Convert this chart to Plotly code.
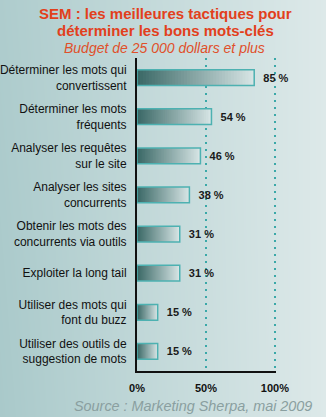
import plotly.graph_objects as go

categories = [
    "Déterminer les mots qui<br>convertissent",
    "Déterminer les mots<br>fréquents",
    "Analyser les requêtes<br>sur le site",
    "Analyser les sites<br>concurrents",
    "Obtenir les mots des<br>concurrents via outils",
    "Exploiter la long tail",
    "Utiliser des mots qui<br>font du buzz",
    "Utiliser des outils de<br>suggestion de mots",
]
values = [85, 54, 46, 38, 31, 31, 15, 15]
tick_vals = [0, 50, 100]
tick_text = ["0%", "50%", "100%"]

W, H = 326, 417
X0, X1 = 137, 276
Y0, Y1 = 58, 371

def hex2rgb(h):
    h = h.lstrip("#")
    return tuple(int(h[i:i + 2], 16) for i in (0, 2, 4))

def mix(c1, c2, t):
    a, b = hex2rgb(c1), hex2rgb(c2)
    return "rgb(%d,%d,%d)" % tuple(round(a[i] + (b[i] - a[i]) * t) for i in range(3))

fig = go.Figure()

# background gradient (first subplot, drawn underneath)
fig.add_trace(go.Heatmap(
    z=[[0, 1], [0.1, 1]], x=[0, 1], y=[0, 1], zsmooth="best",
    colorscale=[[0, "#a9c9ca"], [1, "#dde9e9"]], showscale=False,
    hoverinfo="skip", xaxis="x", yaxis="y",
))

# gradient-filled bars
N = 40
dark, light = "#3b6967", "#d6e4e4"
for k in range(N):
    t = k / (N - 1)
    fig.add_trace(go.Bar(
        y=categories, x=[v * (1 - k / N) for v in values], base=[v * k / N for v in values],
        orientation="h", width=0.4, marker=dict(color=mix(dark, light, t), line=dict(width=0)),
        hoverinfo="skip", showlegend=False, xaxis="x2", yaxis="y2",
    ))

# outline + value labels
fig.add_trace(go.Bar(
    y=categories, x=values, base=[0] * len(values), orientation="h", width=0.4,
    marker=dict(color="rgba(0,0,0,0)", line=dict(color="#4db1b1", width=1.5)),
    text=["  %d %%" % v for v in values], textposition="outside", constraintext="none",
    cliponaxis=False,
    textfont=dict(family="Liberation Sans", size=11, color="#1a1a1a", weight="bold"),
    hoverinfo="skip", showlegend=False, xaxis="x2", yaxis="y2",
))

fig.update_layout(
    width=W, height=H, margin=dict(l=0, r=0, t=0, b=0, autoexpand=False),
    paper_bgcolor="#c8dcdc", plot_bgcolor="rgba(0,0,0,0)",
    barmode="overlay", showlegend=False,
    font=dict(family="Liberation Sans", size=12, color="#111"),
    xaxis=dict(domain=[0, 1], range=[0, 1], visible=False, fixedrange=True, automargin=False),
    yaxis=dict(domain=[0, 1], range=[0, 1], visible=False, fixedrange=True, automargin=False),
    xaxis2=dict(
        domain=[X0 / W, X1 / W], anchor="y2", range=[0, 100.8], automargin=False,
        tickvals=tick_vals, ticktext=tick_text, ticks="",
        tickfont=dict(family="Liberation Sans", size=11, color="#111", weight="bold"),
        ticklabelstandoff=6,
        showgrid=True, gridcolor="#3aa8a8", gridwidth=2, griddash="2px,5px",
        zeroline=False, showline=True, linecolor="#111", linewidth=2,
    ),
    yaxis2=dict(
        domain=[1 - Y1 / H, 1 - Y0 / H], anchor="x2", type="category", automargin=False,
        categoryarray=categories, range=[7.5, -0.5], ticks="",
        tickfont=dict(family="Liberation Sans", size=12, color="#111"),
        ticklabelstandoff=6, showgrid=False, zeroline=False,
        showline=True, linecolor="#111", linewidth=2,
    ),
    annotations=[
        dict(text="<b>SEM : les meilleures tactiques pour</b>", x=165 / W, y=1 - 13 / H,
             xref="paper", yref="paper", showarrow=False, xanchor="center", yanchor="middle",
             font=dict(family="Liberation Sans", size=15, color="#e2401c")),
        dict(text="<b>déterminer les bons mots-clés</b>", x=165 / W, y=1 - 31 / H,
             xref="paper", yref="paper", showarrow=False, xanchor="center", yanchor="middle",
             font=dict(family="Liberation Sans", size=15, color="#e2401c")),
        dict(text="<i>Budget de 25 000 dollars et plus</i>", x=164 / W, y=1 - 48 / H,
             xref="paper", yref="paper", showarrow=False, xanchor="center", yanchor="middle",
             font=dict(family="Liberation Sans", size=14, color="#e0502a")),
        dict(text="<i>Source : Marketing Sherpa, mai 2009</i>", x=193 / W, y=1 - 406 / H,
             xref="paper", yref="paper", showarrow=False, xanchor="center", yanchor="middle",
             font=dict(family="Liberation Sans", size=14.4, color="#8a9fa0")),
    ],
)

fig.write_html("out.html")
